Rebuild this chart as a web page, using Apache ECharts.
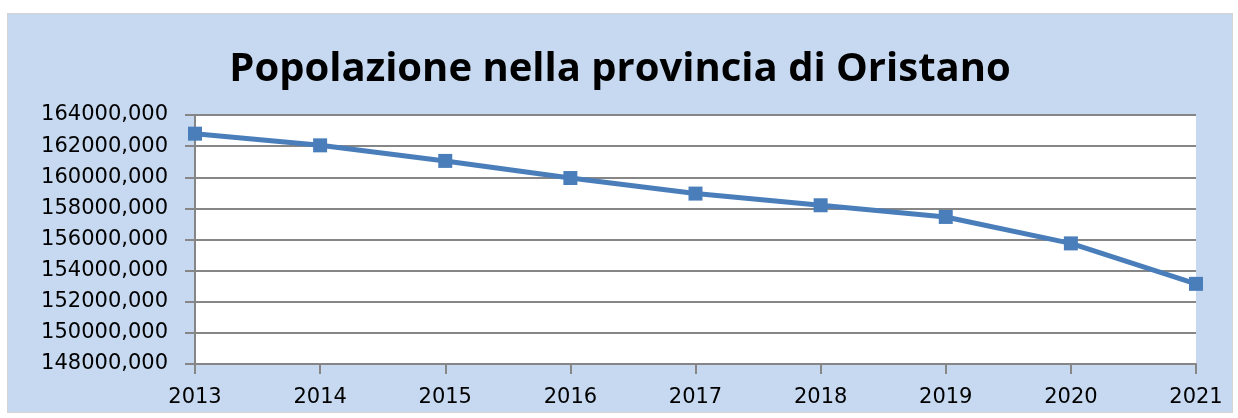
<!DOCTYPE html>
<html>
<head>
<meta charset="utf-8">
<title>Popolazione nella provincia di Oristano</title>
<script src="https://cdn.jsdelivr.net/npm/echarts@6/dist/echarts.min.js"></script>
<style>
	html, body { margin: 0; padding: 0; background: #ffffff; }
	#wrap { position: relative; width: 1238px; height: 418px; }
	#chart {
		position: absolute; left: 7px; top: 13px;
		width: 1224px; height: 398px;
		background: #c6d9f0; border: 1px solid #d4d4d4;
	}
</style>
</head>
<body>
<div id="wrap"><div id="chart"></div></div>
<script>
// anni e popolazione
var anni = ['2013', '2014', '2015', '2016', '2017', '2018', '2019', '2020', '2021'];
var popolazione = [162800, 162050, 161050, 159950, 158950, 158200, 157450, 155750, 153150];

var chart = echarts.init(document.getElementById('chart'));
var option = {
	animation: false,
	title: {
		text: 'Popolazione nella provincia di Oristano',
		left: 'center',
		top: 31,
		textStyle: {
			fontFamily: 'Open Sans',
			fontWeight: 'bold',
			fontSize: 40,
			color: '#000000'
		}
	},
	grid: {
		left: 187,
		right: 36,
		top: 101,
		bottom: 48,
		show: true,
		backgroundColor: '#ffffff',
		borderWidth: 0
	},
	xAxis: {
		type: 'category',
		data: anni,
		boundaryGap: false,
		axisLine: { show: true, lineStyle: { color: '#868686', width: 2 } },
		axisTick: { show: true, length: 10, lineStyle: { color: '#868686', width: 2 } },
		axisLabel: { color: '#000000', fontSize: 21, fontFamily: 'DejaVu Sans', margin: 23 },
		splitLine: { show: false }
	},
	yAxis: {
		type: 'value',
		min: 148000,
		max: 164000,
		interval: 2000,
		axisLine: { show: true, lineStyle: { color: '#868686', width: 2 } },
		axisTick: { show: true, length: 10, lineStyle: { color: '#868686', width: 2 } },
		axisLabel: {
			color: '#000000', fontSize: 21, fontFamily: 'DejaVu Sans', margin: 27,
			formatter: function (v) { return v + ',000'; }
		},
		splitLine: { show: true, lineStyle: { color: '#868686', width: 2 } }
	},
	series: [{
		name: 'Popolazione',
		type: 'line',
		data: popolazione,
		symbol: 'rect',
		symbolSize: 14,
		lineStyle: { color: '#4a7ebb', width: 5 },
		itemStyle: { color: '#4a7ebb' }
	}]
};
chart.setOption(option);
</script>
</body>
</html>
